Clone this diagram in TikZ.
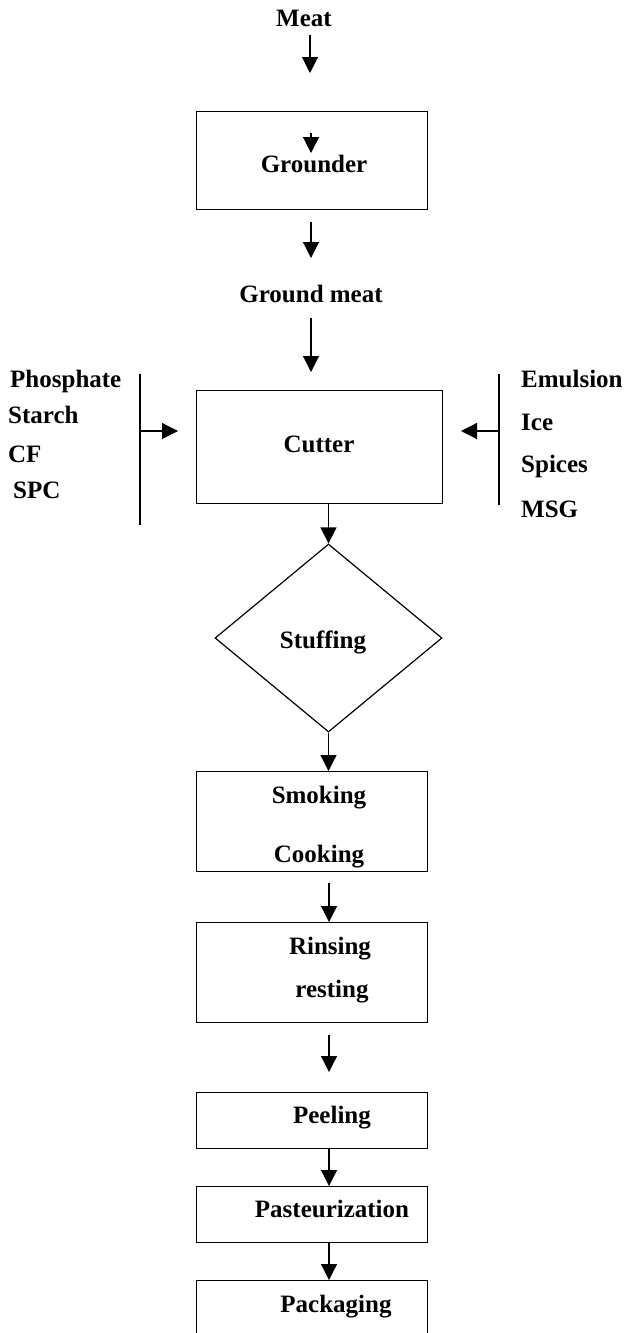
\documentclass[tikz,border=0pt]{standalone}
\usepackage{fontspec}
\setmainfont{Liberation Serif}
\usetikzlibrary{arrows.meta,shapes.geometric}
\begin{document}
\begin{tikzpicture}[x=1pt,y=-1pt,
  box/.style={draw,line width=1.3pt,inner sep=0pt,anchor=north west},
  lbl/.style={font=\fontsize{25}{30}\selectfont\bfseries,anchor=base,inner sep=0pt},
  lbll/.style={lbl,anchor=base west},
  arr/.style={line width=1.2pt,-{Triangle[width=16pt,length=16pt]}},
  ln/.style={line width=1.2pt}]
\useasboundingbox (0,0) rectangle (624,1333);
\clip (0,0) rectangle (624,1333);
% boxes
\node[box,minimum width=231pt,minimum height=98pt] (grounder) at (196,111) {};
\node[box,minimum width=246pt,minimum height=113pt] (cutter) at (196,390) {};
\node[draw,line width=1.2pt,shape=diamond,inner sep=0pt,minimum width=227pt,minimum height=188pt] (stuffing) at (328.5,638) {};
\node[box,minimum width=231pt,minimum height=100pt] (smoking) at (196,771) {};
\node[box,minimum width=231pt,minimum height=100pt] (rinsing) at (196,922) {};
\node[box,minimum width=231pt,minimum height=56pt] (peeling) at (196,1092) {};
\node[box,minimum width=231pt,minimum height=56pt] (past) at (196,1186) {};
\node[box,minimum width=231pt,minimum height=70pt] (pack) at (196,1280) {};
% texts
\node[lbl] (meat) at (304,27) {Meat};
\node[lbl] (tgrounder) at (314,172) {Grounder};
\node[lbl] (gmeat) at (311,302) {Ground meat};
\node[lbl] (tcutter) at (319,452) {Cutter};
\node[lbll] (phos) at (10,387) {Phosphate};
\node[lbll] (starch) at (8,423) {Starch};
\node[lbll] (cf) at (8,462) {CF};
\node[lbll] (spc) at (13,498) {SPC};
\node[lbll] (emul) at (521,387) {Emulsion};
\node[lbll] (ice) at (521,430) {Ice};
\node[lbll] (spices) at (521,472) {Spices};
\node[lbll] (msg) at (521,517) {MSG};
\node[lbl] (tstuff) at (323,648) {Stuffing};
\node[lbl] (tsmok) at (319,803) {Smoking};
\node[lbl] (tcook) at (319,862) {Cooking};
\node[lbl] (trins) at (330,954) {Rinsing};
\node[lbl] (trest) at (332,997) {resting};
\node[lbl] (tpeel) at (332,1123) {Peeling};
\node[lbl] (tpast) at (332,1217) {Pasteurization};
\node[lbl] (tpack) at (336,1312) {Packaging};
% connector end points
\coordinate (m1) at (310,35);   \coordinate (m2) at (310,73);
\coordinate (g1) at (311,133);  \coordinate (g2) at (311,153);
\coordinate (g3) at (311,222);  \coordinate (g4) at (311,258);
\coordinate (c1) at (311,318);  \coordinate (c2) at (311,372);
\coordinate (r1) at (329,883);
\coordinate (p1) at (329,1035); \coordinate (p2) at (329,1072);
\coordinate (lt) at (140,374);  \coordinate (lb) at (140,525);
\coordinate (lm) at (140,431);  \coordinate (lh) at (178,431);
\coordinate (rt) at (499,374);  \coordinate (rb) at (499,505);
\coordinate (rm) at (499,431);  \coordinate (rh) at (461,431);
% connectors
\draw[arr] (m1) -- (m2);
\draw[arr] (g1) -- (g2);
\draw[arr] (g3) -- (g4);
\draw[arr] (c1) -- (c2);
\draw[arr] (cutter.south -| stuffing.north) -- (stuffing.north);
\draw[arr] (stuffing.south) -- (smoking.north -| stuffing.south);
\draw[arr] (r1) -- (rinsing.north -| r1);
\draw[arr] (p1) -- (p2);
\draw[arr] (peeling.south -| p1) -- (past.north -| p1);
\draw[arr] (past.south -| p1) -- (pack.north -| p1);
\draw[ln] (lt) -- (lb);
\draw[arr] (lm) -- (lh);
\draw[ln] (rt) -- (rb);
\draw[arr] (rm) -- (rh);
\end{tikzpicture}
\end{document}
